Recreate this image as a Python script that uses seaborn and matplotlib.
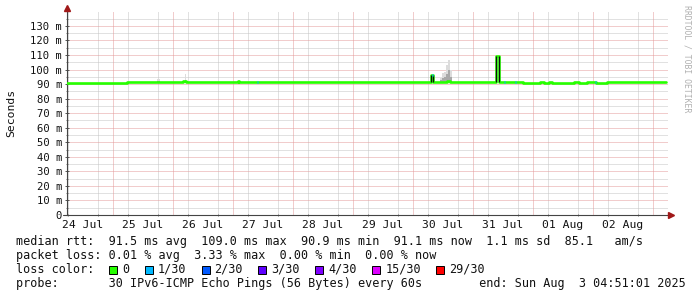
import matplotlib
matplotlib.use("Agg")
import matplotlib.pyplot as plt
import seaborn as sns
import pandas as pd
import numpy as np
from matplotlib.patches import Rectangle
from matplotlib.ticker import FixedLocator, FixedFormatter

# ---------------- data (hours since 24 Jul 00:00) ----------------
seg_start_h = [5.6, 29.6, 52.0, 53.2, 74.0, 74.4, 151.2, 152.0, 155.6, 157.6, 158.8,
               177.2, 178.4, 188.0, 194.8, 196.4, 198.4, 199.6, 208.4, 210.4, 213.6,
               217.2, 221.6, 245.2]
median_ms = [90.8, 91.5, 92.0, 91.5, 91.9, 91.5, 96.3, 91.3, 91.5, 92.2, 91.5,
             109.3, 91.5, 91.0, 91.6, 91.1, 91.5, 91.1, 91.7, 91.1, 91.7,
             91.1, 91.3, 91.3]

# smoke (ping spread) blocks: start hour, end hour, top, middle
smoke_start_h = [41.6, 52.6, 154.8, 155.6, 156.4, 157.2, 158.0, 158.8]
smoke_end_h = [42.8, 53.2, 155.6, 156.4, 157.2, 158.0, 158.8, 159.6]
smoke_top_ms = [93.5, 97.0, 94.0, 97.5, 98.5, 103.0, 106.5, 100.0]
smoke_mid_ms = [92.3, 92.5, 92.8, 94.5, 95.0, 97.0, 100.0, 95.0]

# packet loss events (1/30)
loss_h = [81.6, 151.4, 180.4, 184.8, 216.8]
loss_ms = [91.5, 96.3, 91.5, 91.5, 91.7]

day_labels = ["24 Jul", "25 Jul", "26 Jul", "27 Jul", "28 Jul", "29 Jul",
              "30 Jul", "31 Jul", "01 Aug", "02 Aug"]
y_ticks = [0, 10, 20, 30, 40, 50, 60, 70, 80, 90, 100, 110, 120, 130]
y_labels = ["0", "10 m", "20 m", "30 m", "40 m", "50 m", "60 m", "70 m", "80 m",
            "90 m", "100 m", "110 m", "120 m", "130 m"]

loss_names = ["0", "1/30", "2/30", "3/30", "4/30", "15/30", "29/30"]
loss_colors = ["#26ff00", "#00b8ff", "#0059ff", "#5e00ff", "#7e00ff", "#dd00ff", "#ff0000"]

legend_lines = [
    "median rtt:  91.5 ms avg  109.0 ms max  90.9 ms min  91.1 ms now  1.1 ms sd  85.1   am/s",
    "packet loss: 0.01 % avg  3.33 % max  0.00 % min  0.00 % now",
    "loss color:",
    "probe:       30 IPv6-ICMP Echo Pings (56 Bytes) every 60s        end: Sun Aug  3 04:51:01 2025",
]

# ---------------- style ----------------
sns.set_theme(style="white")
plt.rcParams["font.family"] = ["DejaVu Sans Mono", "DejaVu Sans"]

W, H = 697, 297
fig = plt.figure(figsize=(W / 100, H / 100), dpi=100)
fig.patch.set_facecolor("white")

ax_l, ax_r, ax_b, ax_t = 67, 668, 215, 11.4
ax = fig.add_axes([ax_l / W, 1 - ax_b / H, (ax_r - ax_l) / W, (ax_b - ax_t) / H])
ax.set_facecolor("white")
ax.set_xlim(5.6, 246.0)
ax.set_ylim(0, 140)

# grid
minor_c = "#c4c4c4"
major_c = "#e49a9a"
dot = (0, (1, 1))
ax.yaxis.set_major_locator(FixedLocator(y_ticks))
ax.yaxis.set_major_formatter(FixedFormatter(y_labels))
ax.yaxis.set_minor_locator(FixedLocator([v + 5 for v in y_ticks]))
ax.xaxis.set_minor_locator(FixedLocator([h for h in range(6, 246, 6) if h % 24]))
noon = [12 + 24 * i for i in range(len(day_labels))]
ax.xaxis.set_major_locator(FixedLocator(noon))
ax.xaxis.set_major_formatter(FixedFormatter(day_labels))
ax.grid(False)
ax.grid(which="minor", axis="both", color=minor_c, linestyle=dot, linewidth=0.72)
ax.grid(which="major", axis="y", color=major_c, linestyle=dot, linewidth=0.72)
for d in range(24, 246, 24):
    ax.axvline(d, color=major_c, linestyle=dot, linewidth=0.72, zorder=0.6)
ax.set_axisbelow(True)

# smoke
for s, e, top, mid in zip(smoke_start_h, smoke_end_h, smoke_top_ms, smoke_mid_ms):
    ax.fill_between([s, e], [91.2, 91.2], [top, top], color="#dcdcdc", lw=0, zorder=2)
    ax.fill_between([s, e], [91.2, 91.2], [mid, mid], color="#a8a8a8", lw=0, zorder=2.1)

# median line
df = pd.DataFrame({"hours": seg_start_h, "median": median_ms})
sns.lineplot(data=df, x="hours", y="median", ax=ax, color=loss_colors[0],
             linewidth=1.9, drawstyle="steps-post", zorder=3, legend=False)

# spikes drawn with dark edges like the reference
for i, v in enumerate(median_ms[:-1]):
    if v > 95:
        s, e = seg_start_h[i], seg_start_h[i + 1]
        base = median_ms[i - 1]
        ax.vlines([s, e], base, v, colors="#111111", linewidth=0.9, zorder=4)

# loss markers
for h, v in zip(loss_h, loss_ms):
    ax.plot([h, h + 0.4], [v, v], color=loss_colors[1], linewidth=1.9,
            solid_capstyle="butt", zorder=5)

ax.set_xlabel("")
ax.set_ylabel("")

# ticks
ax.tick_params(axis="y", which="major", length=3, direction="inout", width=0.7,
               color="#555555", labelsize=7.6, pad=2, labelcolor="#111111")
ax.tick_params(axis="y", which="minor", length=2, direction="inout", width=0.7, color="#777777")
ax.tick_params(axis="x", which="major", length=0, labelsize=8.2, pad=3.5, labelcolor="#111111")
ax.tick_params(axis="x", which="minor", length=2, direction="inout", width=0.7, color="#777777")
ax.tick_params(left=True, bottom=True, which="both")

for sp in ["top", "right"]:
    ax.spines[sp].set_visible(False)
for sp in ["left", "bottom"]:
    ax.spines[sp].set_color("#444444")
    ax.spines[sp].set_linewidth(0.8)

# arrows
ax.plot(0, 1.0 + 3 / 204, marker="^", color="#a01818", markersize=4.2,
        transform=ax.transAxes, clip_on=False, zorder=10)
ax.plot(1.0 + 3 / 601, 0, marker=">", color="#a01818", markersize=4.2,
        transform=ax.transAxes, clip_on=False, zorder=10)
ax.plot([-4 / 601, 0], [0, 0], color="#444444", lw=0.8, transform=ax.transAxes,
        clip_on=False)

# y label
fig.text(11 / W, 1 - 113 / H, "Seconds", rotation=90, ha="center", va="center",
         fontsize=8.2, color="#111111")

# watermark
fig.text(687 / W, 1 - 5 / H, "RRDTOOL / TOBI OETIKER", rotation=270, ha="center",
         va="top", fontsize=5.9, color="#b0b0b0")

# legend text
char_w = 7.11
baselines = [245, 259, 273, 287]
for line, b in zip(legend_lines, baselines):
    fig.text(16 / W, 1 - b / H, line, ha="left", va="baseline", fontsize=8.45,
             color="#111111")

# loss colour legend
bx = 109
for name, col in zip(loss_names, loss_colors):
    fig.patches.append(Rectangle((bx / W, 1 - 273.5 / H), 8 / W, 8 / H,
                                 transform=fig.transFigure, facecolor=col,
                                 edgecolor="#000000", linewidth=0.7))
    lx = bx + 13
    fig.text(lx / W, 1 - 273 / H, name, ha="left", va="baseline", fontsize=8.45,
             color="#111111")
    bx = lx + len(name) * char_w + 15.5

fig.savefig("out.png", dpi=100, facecolor="white")
